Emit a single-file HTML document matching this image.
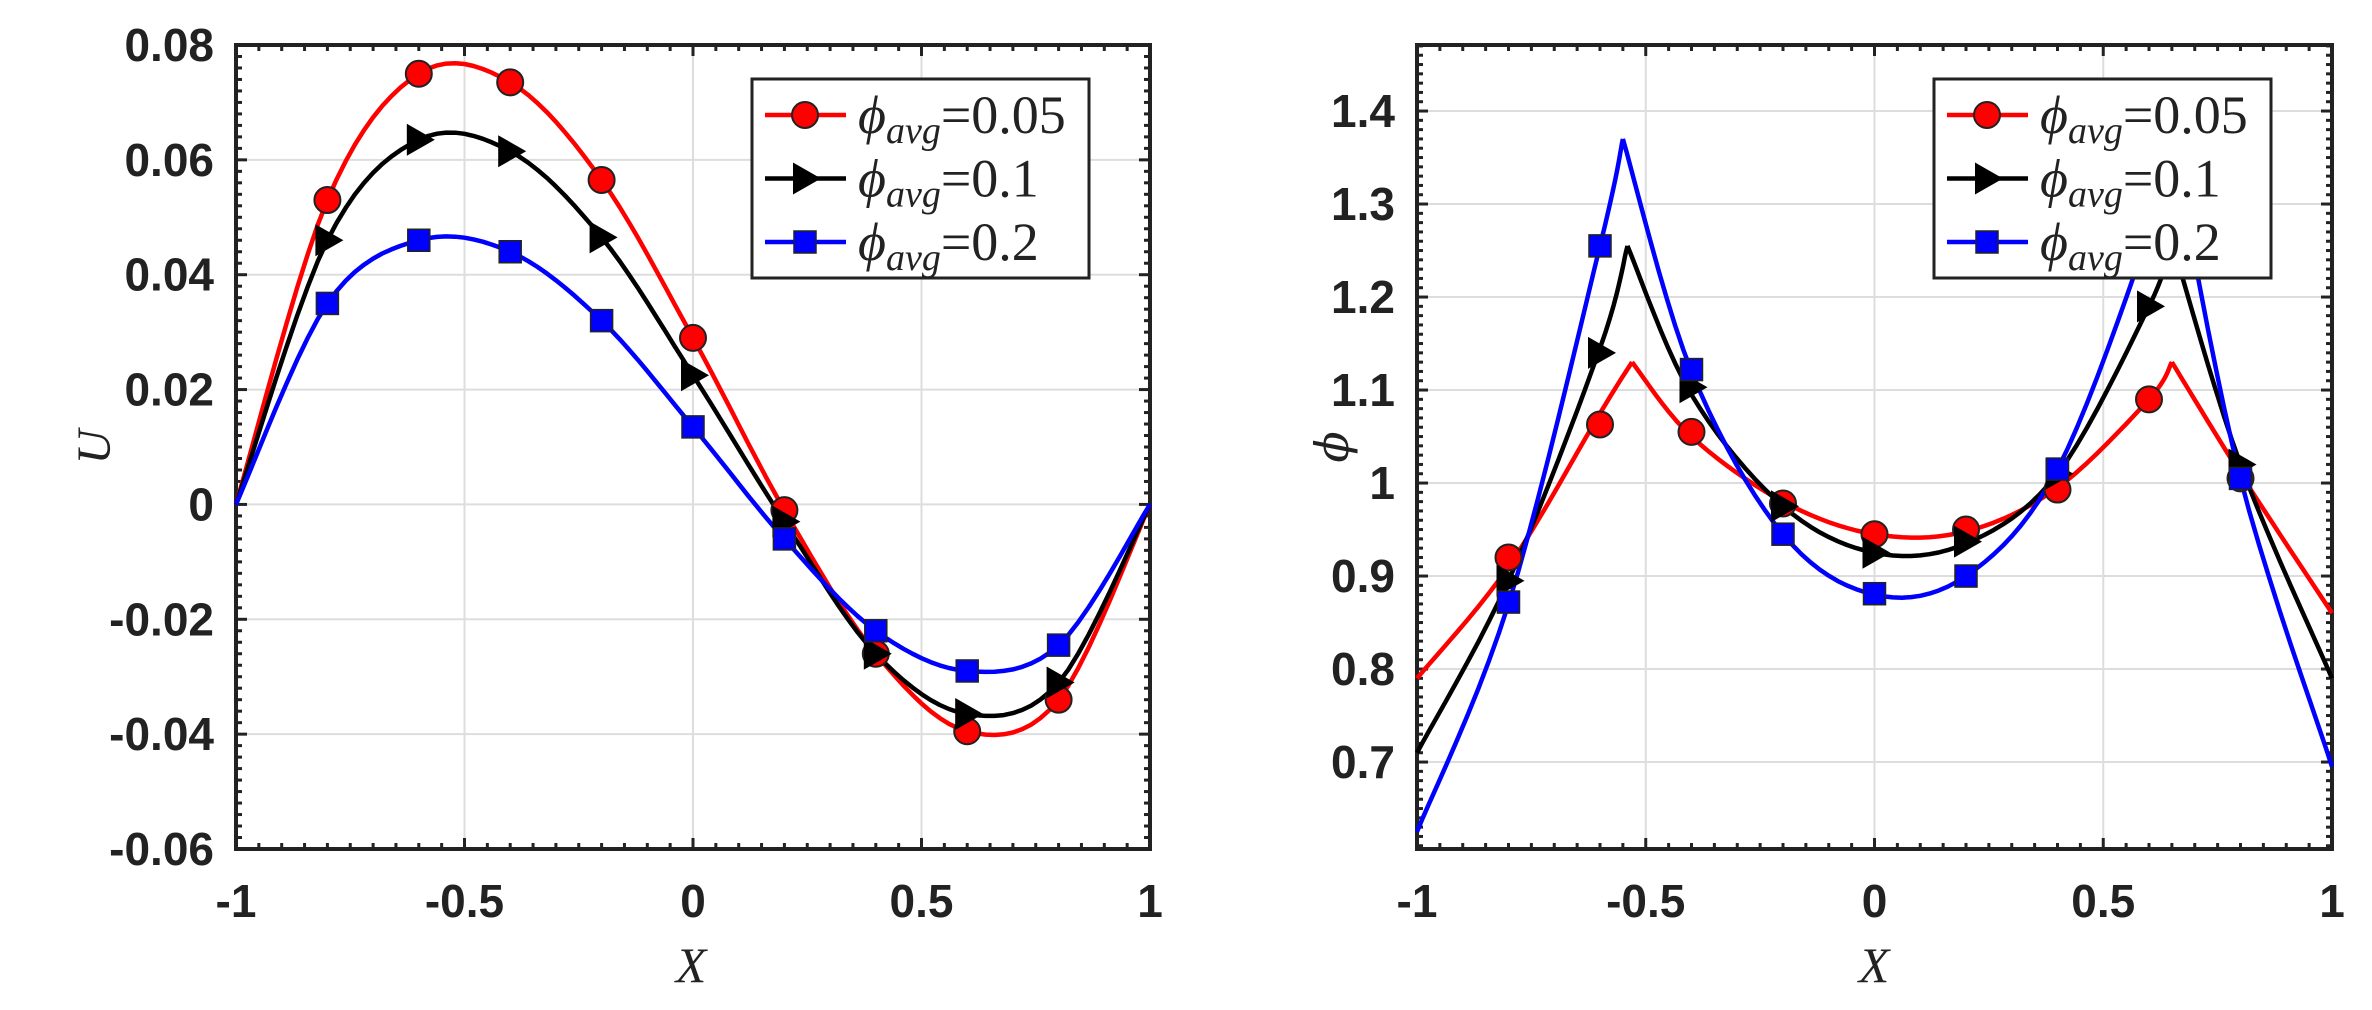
<!DOCTYPE html>
<html><head><meta charset="utf-8"><style>
html,body{margin:0;padding:0;background:#fff}
svg{display:block}
.tk{font-family:"Liberation Sans",sans-serif;font-weight:bold;font-size:46px;fill:#222}
.lg{font-family:"Liberation Serif",serif;font-size:54px;fill:#222}
</style></head><body>
<svg id="s" width="2372" height="1010" xmlns="http://www.w3.org/2000/svg"></svg>
<script>
const S=document.getElementById('s');let h='';
function ax(o){
 const {x0,x1,y0,y1,ymin,ymax,ystep,yminor,ylabels}=o;
 const X=v=>x0+(v+1)/2*(x1-x0), Y=v=>y1-(v-ymin)/(ymax-ymin)*(y1-y0);
 for(let v=-1;v<=1.001;v+=0.5){h+=`<line x1="${X(v)}" y1="${y0}" x2="${X(v)}" y2="${y1}" stroke="#ddd" stroke-width="2"/>`;}
 ylabels.forEach(([v,t])=>{h+=`<line x1="${x0}" y1="${Y(v)}" x2="${x1}" y2="${Y(v)}" stroke="#ddd" stroke-width="2"/>`;});
 for(let i=0;i<=40;i++){const v=-1+i*0.05,L=(i%10==0)?11:6;
  h+=`<line x1="${X(v)}" y1="${y1}" x2="${X(v)}" y2="${y1-L}" stroke="#222" stroke-width="3"/><line x1="${X(v)}" y1="${y0}" x2="${X(v)}" y2="${y0+L}" stroke="#222" stroke-width="3"/>`;}
 let start=Math.ceil(ymin/yminor-1e-6);
 for(let k=start;k*yminor<=ymax+1e-9;k++){const v=k*yminor;const maj=Math.abs(v/ystep-Math.round(v/ystep))<1e-6;const L=maj?11:6;
  h+=`<line x1="${x0}" y1="${Y(v)}" x2="${x0+L}" y2="${Y(v)}" stroke="#222" stroke-width="3"/><line x1="${x1}" y1="${Y(v)}" x2="${x1-L}" y2="${Y(v)}" stroke="#222" stroke-width="3"/>`;}
 h+=`<rect x="${x0}" y="${y0}" width="${x1-x0}" height="${y1-y0}" fill="none" stroke="#222" stroke-width="4"/>`;
 ylabels.forEach(([v,t])=>{h+=`<text class="tk" x="${x0-22}" y="${Y(v)+16}" text-anchor="end">${t}</text>`;});
 [[-1,'-1'],[-0.5,'-0.5'],[0,'0'],[0.5,'0.5'],[1,'1']].forEach(([v,t])=>{h+=`<text class="tk" x="${X(v)}" y="917" text-anchor="middle">${t}</text>`;});
 return [X,Y];
}
function cr(pts,X,Y){
 let d=`M${X(pts[0][0])},${Y(pts[0][1])}`;
 for(let i=0;i<pts.length-1;i++){const p0=pts[i-1]||pts[i],p1=pts[i],p2=pts[i+1],p3=pts[i+2]||p2;
  for(let t=0.1;t<=1.0001;t+=0.1){const t2=t*t,t3=t2*t;
   const f=(a,b,c,e)=>0.5*(2*b+(-a+c)*t+(2*a-5*b+4*c-e)*t2+(-a+3*b-3*c+e)*t3);
   d+=` L${X(f(p0[0],p1[0],p2[0],p3[0])).toFixed(1)},${Y(f(p0[1],p1[1],p2[1],p3[1])).toFixed(1)}`;}}
 return d;}
function line(pieces,X,Y,c){let d='';pieces.forEach(p=>d+=cr(p,X,Y)+' ');h+=`<path d="${d}" fill="none" stroke="${c}" stroke-width="4.5" stroke-linejoin="round"/>`;}
function mk(type,x,y){
 if(type==0)h+=`<circle cx="${x}" cy="${y}" r="13" fill="#f00" stroke="#222" stroke-width="2"/>`;
 if(type==1)h+=`<polygon points="${x-12},${y-16} ${x+16},${y} ${x-12},${y+16}" fill="#000"/>`;
 if(type==2)h+=`<rect x="${x-11}" y="${y-11}" width="22" height="22" fill="#00f" stroke="#222" stroke-width="1.5"/>`;}
const MX=[-0.8,-0.6,-0.4,-0.2,0,0.2,0.4,0.6,0.8];
let [X,Y]=ax({x0:236,x1:1150,y0:45,y1:849,ymin:-0.06,ymax:0.08,ystep:0.02,yminor:0.002,
 ylabels:[[0.08,'0.08'],[0.06,'0.06'],[0.04,'0.04'],[0.02,'0.02'],[0,'0'],[-0.02,'-0.02'],[-0.04,'-0.04'],[-0.06,'-0.06']]});
const U=[
 [0.053,0.075,0.0735,0.0565,0.029,-0.001,-0.026,-0.0395,-0.034],
 [0.046,0.0635,0.0615,0.0465,0.0225,-0.003,-0.026,-0.0365,-0.031],
 [0.035,0.046,0.044,0.032,0.0135,-0.006,-0.022,-0.029,-0.0245]];
const cols=['#f00','#000','#00f'];
U.forEach((u,k)=>{let p=[[-1,0]];MX.forEach((x,i)=>p.push([x,u[i]]));p.push([1,0]);line([p],X,Y,cols[k]);});
U.forEach((u,k)=>MX.forEach((x,i)=>mk(k,X(x),Y(u[i]))));
h+=`<text x="0" y="0" transform="translate(110,447) rotate(-90)" font-family="Liberation Serif,serif" font-style="italic" font-size="48" fill="#222" text-anchor="middle">U</text>`;
h+=`<text x="691" y="982" font-family="Liberation Serif,serif" font-style="italic" font-size="50" fill="#222" text-anchor="middle">X</text>`;
[X,Y]=ax({x0:1417,x1:2332,y0:45,y1:849,ymin:0.6065,ymax:1.471,ystep:0.1,yminor:0.01,
 ylabels:[[1.4,'1.4'],[1.3,'1.3'],[1.2,'1.2'],[1.1,'1.1'],[1,'1'],[0.9,'0.9'],[0.8,'0.8'],[0.7,'0.7']]});
const P=[
 [[[-1,0.79],[-0.8,0.91],[-0.6,1.075],[-0.53,1.13]],[[-0.53,1.13],[-0.4,1.05],[-0.2,0.98],[0,0.945],[0.2,0.948],[0.4,0.995],[0.6,1.09],[0.65,1.13]],[[0.65,1.13],[0.8,1.01],[1,0.86]]],
 [[[-1,0.71],[-0.8,0.895],[-0.6,1.145],[-0.54,1.255]],[[-0.54,1.255],[-0.4,1.095],[-0.2,0.975],[0,0.925],[0.2,0.935],[0.4,1.01],[0.6,1.19],[0.65,1.26]],[[0.65,1.26],[0.8,1.02],[1,0.79]]],
 [[[-1,0.625],[-0.8,0.87],[-0.6,1.255],[-0.55,1.37]],[[-0.55,1.37],[-0.4,1.12],[-0.2,0.945],[0,0.88],[0.2,0.9],[0.4,1.015],[0.6,1.27],[0.65,1.37]],[[0.65,1.37],[0.8,1.005],[1,0.695]]]];
P.forEach((p,k)=>line(p,X,Y,cols[k]));
const PM=[[0.92,1.063,1.055,0.978,0.945,0.95,0.993,1.09,1.005],[0.895,1.14,1.103,0.975,0.925,0.937,1.01,1.19,1.02],[0.872,1.255,1.122,0.945,0.881,0.9,1.015,1.27,1.005]];
PM.forEach((u,k)=>MX.forEach((x,i)=>mk(k,X(x),Y(u[i]))));
h+=`<text x="0" y="0" transform="translate(1348,447) rotate(-90)" font-family="DejaVu Serif,serif" font-style="italic" font-size="46" fill="#222" text-anchor="middle">ϕ</text>`;
h+=`<text x="1874" y="982" font-family="Liberation Serif,serif" font-style="italic" font-size="50" fill="#222" text-anchor="middle">X</text>`;
function leg(x0){
 h+=`<rect x="${x0}" y="79" width="337" height="199" fill="#fff" stroke="#222" stroke-width="3"/>`;
 ['0.05','0.1','0.2'].forEach((t,k)=>{const y=115+k*63.5;
  h+=`<line x1="${x0+13}" y1="${y}" x2="${x0+94}" y2="${y}" stroke="${cols[k]}" stroke-width="4.5"/>`;mk(k,x0+53,y);
  h+=`<text class="lg" x="${x0+106}" y="${y+18}"><tspan font-style="italic">ϕ</tspan><tspan font-style="italic" font-size="38" dy="10">avg</tspan><tspan dy="-10">=${t}</tspan></text>`;});}
leg(752);leg(1934);
S.innerHTML=h;
</script>
</body></html>
